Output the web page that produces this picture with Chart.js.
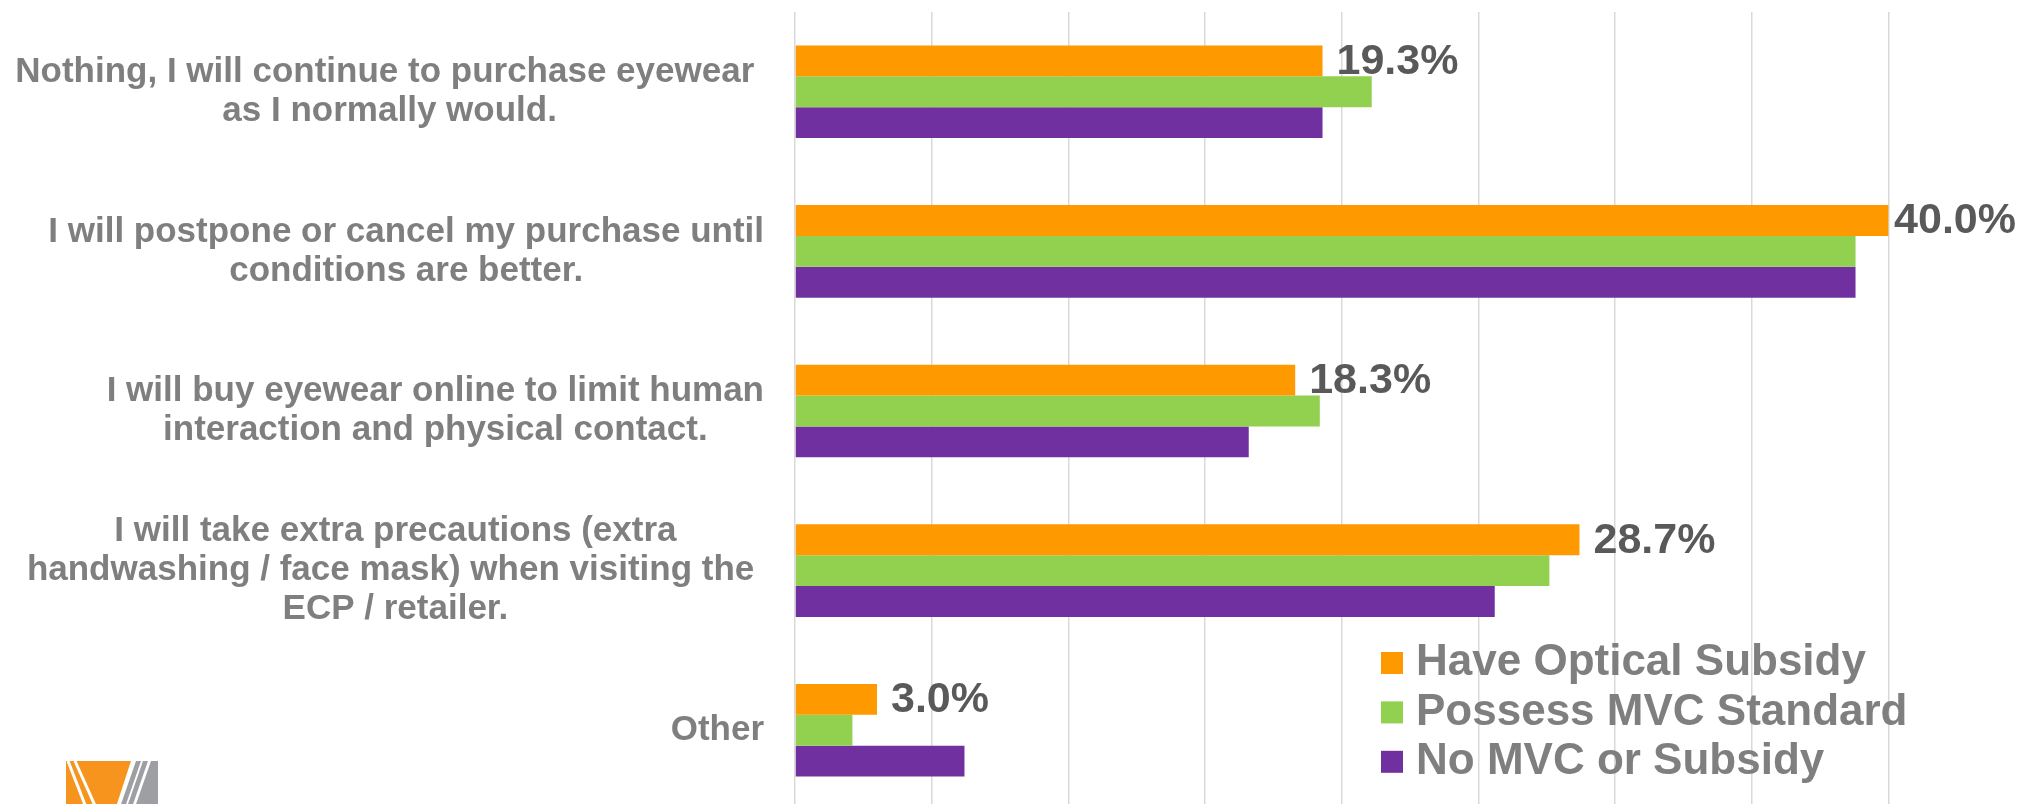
<!DOCTYPE html>
<html>
<head>
<meta charset="utf-8">
<script src="https://cdn.jsdelivr.net/npm/chart.js@4.4.1/dist/chart.umd.min.js"></script>
<style>
  html, body { margin: 0; padding: 0; background: #fff; overflow: hidden; }
  #wrap { width: 2024px; height: 804px; overflow: hidden; position: relative; }
  #chart { position: absolute; left: 0; top: 0; }
</style>
</head>
<body>
<div id="wrap"><canvas id="chart" width="2025" height="810"></canvas></div>
<script>
// answers, each one split into its wrapped lines
const categories = [
    ['Nothing, I will continue to purchase eyewear ', 'as I normally would.'],
    ['I will postpone or cancel my purchase until', 'conditions are better.'],
    ['I will buy eyewear online to limit human', 'interaction and physical contact.'],
    ['I will take extra precautions (extra', 'handwashing / face mask) when visiting the ', 'ECP / retailer.'],
    ['Other']
];
const seriesNames = ['Have Optical Subsidy', 'Possess MVC Standard', 'No MVC or Subsidy'];
const haveSubsidy = [19.3, 40.0, 18.3, 28.7, 3.0];
const possessMvc = [21.1, 38.8, 19.2, 27.6, 2.1];
const noMvcOrSubsidy = [19.3, 38.8, 16.6, 25.6, 6.2];
const xMin = 0;
const xMax = 45;
const xStep = 5;

const colors = ['#ff9900', '#92d050', '#7030a0'];
const fontFamily = '"Liberation Sans", Arial, sans-serif';

// category text drawn as centred blocks, right edge next to the axis
const categoryLabels = {
    id: 'categoryLabels',
    afterDraw(chart) {
        const ctx = chart.ctx;
        const yScale = chart.scales.y;
        const right = chart.chartArea.left - 31;
        const lineHeight = 39;
        ctx.save();
        ctx.font = 'bold 35px ' + fontFamily;
        ctx.fillStyle = '#7f7f7f';
        ctx.textAlign = 'center';
        ctx.textBaseline = 'middle';
        categories.forEach((lines, i) => {
            const blockWidth = Math.max(...lines.map(l => ctx.measureText(l).width));
            const cx = right - blockWidth / 2;
            const cy = yScale.getPixelForValue(i);
            const top = cy - (lines.length - 1) * lineHeight / 2;
            lines.forEach((line, j) => {
                ctx.fillText(line, cx, top + j * lineHeight);
            });
        });
        ctx.restore();
    }
};

// percentage labels only on the first series
const valueLabels = {
    id: 'valueLabels',
    afterDraw(chart) {
        const ctx = chart.ctx;
        const meta = chart.getDatasetMeta(0);
        ctx.save();
        ctx.font = 'bold 43px ' + fontFamily;
        ctx.fillStyle = '#595959';
        ctx.textAlign = 'left';
        ctx.textBaseline = 'middle';
        meta.data.forEach((bar, i) => {
            const text = haveSubsidy[i].toFixed(1) + '%';
            const w = ctx.measureText(text).width;
            const x = Math.min(bar.x + 14, chart.width - w - 9);
            ctx.fillText(text, x, bar.y + 1);
        });
        ctx.restore();
    }
};

const cornerLegend = {
    id: 'cornerLegend',
    afterDraw(chart) {
        const ctx = chart.ctx;
        const boxX = 1381;
        const boxTop = 652;
        const rowGap = 49.4;
        const box = 22;
        ctx.save();
        ctx.font = 'bold 44px ' + fontFamily;
        ctx.textAlign = 'left';
        ctx.textBaseline = 'middle';
        chart.data.datasets.forEach((ds, i) => {
            const y = boxTop + i * rowGap;
            ctx.fillStyle = ds.backgroundColor;
            ctx.fillRect(boxX, y, box, box);
            ctx.fillStyle = '#7f7f7f';
            ctx.fillText(ds.label, boxX + 35, y + box / 2);
        });
        ctx.restore();
    }
};

// little logo cut off at the bottom left
const logo = {
    id: 'logo',
    afterDraw(chart) {
        const ctx = chart.ctx;
        ctx.save();
        ctx.fillStyle = '#f7941d';
        ctx.beginPath();
        ctx.moveTo(66, 761); ctx.lineTo(131, 761); ctx.lineTo(115, 810); ctx.lineTo(66, 810);
        ctx.closePath(); ctx.fill();
        ctx.strokeStyle = '#ffffff';
        ctx.lineWidth = 3;
        [[68, 83], [75, 93]].forEach(([a, b]) => {
            ctx.beginPath(); ctx.moveTo(a, 761); ctx.lineTo(b + 4, 810); ctx.stroke();
        });
        ctx.fillStyle = '#9d9fa2';
        [[136, 141], [143, 148]].forEach(([a, b]) => {
            ctx.beginPath();
            ctx.moveTo(a, 761); ctx.lineTo(b, 761); ctx.lineTo(b - 17, 810); ctx.lineTo(a - 17, 810);
            ctx.closePath(); ctx.fill();
        });
        ctx.beginPath();
        ctx.moveTo(151, 761); ctx.lineTo(158, 761); ctx.lineTo(158, 810); ctx.lineTo(134, 810);
        ctx.closePath(); ctx.fill();
        ctx.restore();
    }
};

new Chart(document.getElementById('chart'), {
    type: 'bar',
    data: {
        labels: categories,
        datasets: [
            { label: seriesNames[0], data: haveSubsidy, backgroundColor: colors[0] },
            { label: seriesNames[1], data: possessMvc, backgroundColor: colors[1] },
            { label: seriesNames[2], data: noMvcOrSubsidy, backgroundColor: colors[2] }
        ]
    },
    options: {
        indexAxis: 'y',
        responsive: false,
        animation: false,
        events: [],
        layout: { padding: { top: 12, right: 0, bottom: 0, left: 0 } },
        datasets: {
            bar: { categoryPercentage: 0.58, barPercentage: 1.0, borderWidth: 0 }
        },
        plugins: {
            legend: { display: false },
            tooltip: { enabled: false }
        },
        scales: {
            x: {
                min: xMin,
                max: xMax,
                ticks: { display: false, stepSize: xStep },
                grid: { color: '#d9d9d9', lineWidth: 1.5, drawTicks: false },
                border: { display: false },
                afterFit: (scale) => { scale.height = 0; }
            },
            y: {
                ticks: { display: false },
                grid: { display: false, drawTicks: false },
                border: { display: false },
                afterFit: (scale) => { scale.width = 795; }
            }
        }
    },
    plugins: [categoryLabels, valueLabels, cornerLegend, logo]
});
</script>
</body>
</html>
